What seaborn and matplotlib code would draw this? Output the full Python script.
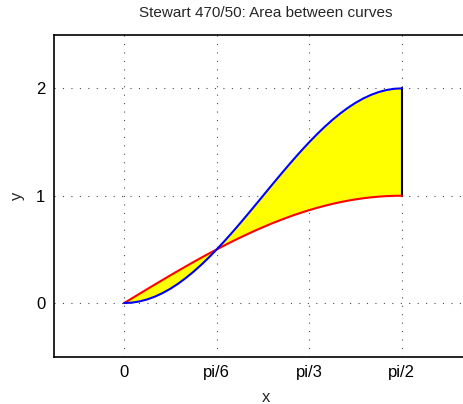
import numpy as np
import pandas as pd
import seaborn as sns
import matplotlib.pyplot as plt

# %% data (x every 2.5 degrees from 0 to pi/2)
x_vals = [0.0, 0.0436, 0.0873, 0.1309, 0.1745, 0.2182, 0.2618, 0.3054, 0.3491, 0.3927,
          0.4363, 0.4800, 0.5236, 0.5672, 0.6109, 0.6545, 0.6981, 0.7418, 0.7854, 0.8290,
          0.8727, 0.9163, 0.9599, 1.0036, 1.0472, 1.0908, 1.1345, 1.1781, 1.2217, 1.2654,
          1.3090, 1.3526, 1.3963, 1.4399, 1.4835, 1.5272, 1.5708]
red_y = [0.0, 0.0436, 0.0872, 0.1305, 0.1736, 0.2164, 0.2588, 0.3007, 0.3420, 0.3827,
         0.4226, 0.4617, 0.5, 0.5373, 0.5736, 0.6088, 0.6428, 0.6756, 0.7071, 0.7373,
         0.7660, 0.7934, 0.8192, 0.8434, 0.8660, 0.8870, 0.9063, 0.9239, 0.9397, 0.9537,
         0.9659, 0.9763, 0.9848, 0.9914, 0.9962, 0.9990, 1.0]
blue_y = [0.0, 0.0038, 0.0152, 0.0341, 0.0603, 0.0937, 0.1340, 0.1808, 0.2340, 0.2929,
          0.3572, 0.4264, 0.5, 0.5774, 0.6580, 0.7412, 0.8264, 0.9128, 1.0, 1.0872,
          1.1736, 1.2588, 1.3420, 1.4226, 1.5, 1.5736, 1.6428, 1.7071, 1.7660, 1.8192,
          1.8660, 1.9063, 1.9397, 1.9659, 1.9848, 1.9962, 2.0]
xtick_pos = [0.0, 0.5236, 1.0472, 1.5708]
xtick_labels = ['0', 'pi/6', 'pi/3', 'pi/2']
ytick_pos = [0, 1, 2]

df = pd.DataFrame({'x': x_vals, 'red': red_y, 'blue': blue_y})

# %%
sns.set_style('white')
plt.rcParams['font.family'] = ['Liberation Sans', 'DejaVu Sans']

fig = plt.figure(figsize=(4.63, 4.04), dpi=100)
ax = fig.add_axes([53.5 / 463, (404 - 356.7) / 404, 424.3 / 463, 322 / 404])

ax.fill_between(df['x'], df['red'], df['blue'], color='yellow', linewidth=0, zorder=1)
sns.lineplot(data=df, x='x', y='red', sort=False, color='red', linewidth=1.5, ax=ax, zorder=3)
sns.lineplot(data=df, x='x', y='blue', sort=False, color='blue', linewidth=1.5, ax=ax, zorder=3)
ax.plot([x_vals[-1], x_vals[-1]], [red_y[-1], blue_y[-1]], color='black', linewidth=1.5, zorder=2)

ax.set_xlim(-0.4, 2.0)
ax.set_ylim(-0.5, 2.5)
ax.set_xticks(xtick_pos)
ax.set_xticklabels(xtick_labels)
ax.set_yticks(ytick_pos)
ax.grid(True, linestyle=(0, (1, 6.6)), color='0.3', linewidth=0.8)
ax.tick_params(direction='in', length=4, labelsize=12, pad=6, colors='black')
ax.spines['right'].set_visible(False)
for s in ['left', 'top', 'bottom']:
    ax.spines[s].set_color('black')
    ax.spines[s].set_linewidth(1.2)

ax.set_xlabel('x', fontsize=12, labelpad=7)
ax.set_ylabel('y', fontsize=12, labelpad=8)
ax.set_title('Stewart 470/50: Area between curves', fontsize=11, pad=13)

fig.savefig('out.png', dpi=100)
